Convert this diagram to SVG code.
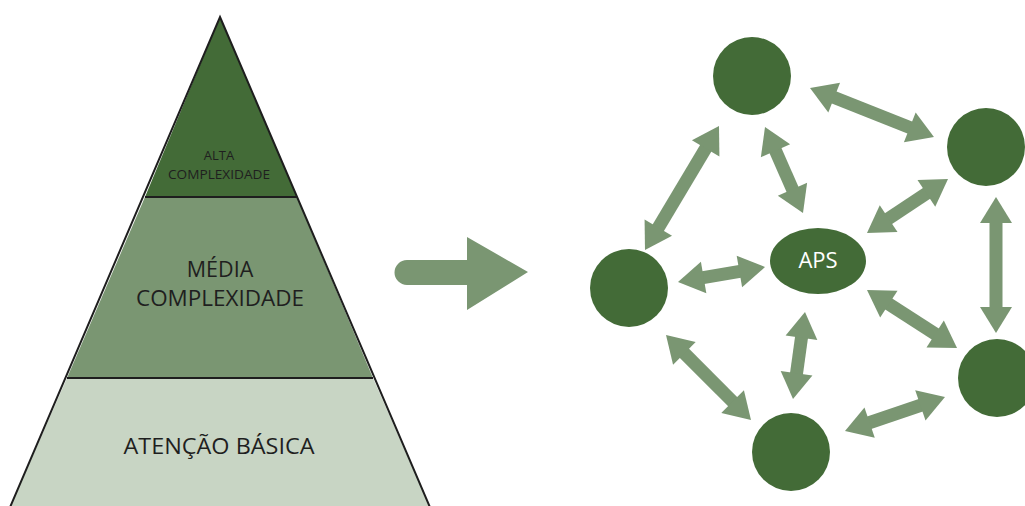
<svg xmlns="http://www.w3.org/2000/svg" xmlns:xlink="http://www.w3.org/1999/xlink" width="1025" height="506" viewBox="0 0 1025 506">
<style>
.lbl{font-family:"Open Sans","Liberation Sans",sans-serif;fill:#1f1f1f;text-anchor:middle}
.node{fill:#436b37}
.conn{fill:#7a9672}
.edge{stroke:#1e1e1e;stroke-width:2}
</style>
<defs>
<polygon id="head" points="0,0 26,-16 26,16" class="conn"/>
</defs>
<rect width="1025" height="506" fill="#ffffff"/>
<g id="pyramid">
<g id="alta">
<polygon points="220,17 297,197 145,197" fill="#436b37"/>
<text class="lbl" x="219" y="160" font-size="13">ALTA</text>
<text class="lbl" x="219" y="179" font-size="13" textLength="102" lengthAdjust="spacingAndGlyphs">COMPLEXIDADE</text>
</g>
<g id="media">
<polygon points="145,197 297,197 373,378 67,378" fill="#7a9672"/>
<text class="lbl" x="220" y="277" font-size="21.5">MÉDIA</text>
<text class="lbl" x="220" y="306" font-size="21.5" textLength="168" lengthAdjust="spacingAndGlyphs">COMPLEXIDADE</text>
</g>
<g id="basica">
<polygon points="67,378 373,378 432,512 8,512" fill="#c8d5c4"/>
<text class="lbl" x="219" y="454" font-size="22.5" textLength="191" lengthAdjust="spacingAndGlyphs">ATENÇÃO BÁSICA</text>
</g>
<polygon points="220,17 432,512 8,512" fill="none" class="edge" stroke-linejoin="miter"/>
<line x1="145" y1="197" x2="297" y2="197" class="edge"/>
<line x1="67" y1="378" x2="373" y2="378" class="edge"/>
</g>
<g id="big-arrow" class="conn">
<path d="M407,260 H467 V237 L528,272 L467,310 V285 H407 A12.5,12.5 0 0 1 407,260 Z"/>
</g>
<g id="connectors">
<g transform="translate(810 88) rotate(21.57)"><rect x="24" y="-6.5" width="85.3" height="13" class="conn"/><use xlink:href="#head"/><use xlink:href="#head" transform="translate(133.3 0) scale(-1 1)"/></g>
<g transform="translate(719 126) rotate(120.83)"><rect x="24" y="-6.5" width="96.4" height="13" class="conn"/><use xlink:href="#head"/><use xlink:href="#head" transform="translate(144.4 0) scale(-1 1)"/></g>
<g transform="translate(765 127) rotate(66.16)"><rect x="24" y="-6.5" width="46" height="13" class="conn"/><use xlink:href="#head"/><use xlink:href="#head" transform="translate(94 0) scale(-1 1)"/></g>
<g transform="translate(948 179) rotate(146.31)"><rect x="24" y="-6.5" width="49.35" height="13" class="conn"/><use xlink:href="#head"/><use xlink:href="#head" transform="translate(97.35 0) scale(-1 1)"/></g>
<g transform="translate(996 197) rotate(90)"><rect x="24" y="-6.5" width="88" height="13" class="conn"/><use xlink:href="#head"/><use xlink:href="#head" transform="translate(136 0) scale(-1 1)"/></g>
<g transform="translate(678 282) rotate(-9.78)"><rect x="24" y="-6.5" width="40.3" height="13" class="conn"/><use xlink:href="#head"/><use xlink:href="#head" transform="translate(88.3 0) scale(-1 1)"/></g>
<g transform="translate(867 290) rotate(32.8)"><rect x="24" y="-6.5" width="59.1" height="13" class="conn"/><use xlink:href="#head"/><use xlink:href="#head" transform="translate(107.1 0) scale(-1 1)"/></g>
<g transform="translate(805 312) rotate(97.85)"><rect x="24" y="-6.5" width="39.8" height="13" class="conn"/><use xlink:href="#head"/><use xlink:href="#head" transform="translate(87.8 0) scale(-1 1)"/></g>
<g transform="translate(666 335) rotate(45)"><rect x="24" y="-6.5" width="72.2" height="13" class="conn"/><use xlink:href="#head"/><use xlink:href="#head" transform="translate(120.2 0) scale(-1 1)"/></g>
<g transform="translate(845 431) rotate(-18.78)"><rect x="24" y="-6.5" width="57.6" height="13" class="conn"/><use xlink:href="#head"/><use xlink:href="#head" transform="translate(105.6 0) scale(-1 1)"/></g>
</g>
<g id="node-top"><circle cx="752" cy="76" r="39" class="node"/></g>
<g id="node-right-top"><circle cx="986" cy="147" r="39" class="node"/></g>
<g id="node-left"><circle cx="629" cy="288" r="39" class="node"/></g>
<g id="node-right-bottom"><circle cx="997" cy="378" r="39" class="node"/></g>
<g id="node-bottom"><circle cx="791" cy="452" r="39" class="node"/></g>
<g id="node-aps">
<ellipse cx="818" cy="261" rx="48" ry="33" class="node"/>
<text x="818" y="268" font-size="22" font-family="Open Sans, Liberation Sans, sans-serif" fill="#ffffff" text-anchor="middle">APS</text>
</g>
</svg>
